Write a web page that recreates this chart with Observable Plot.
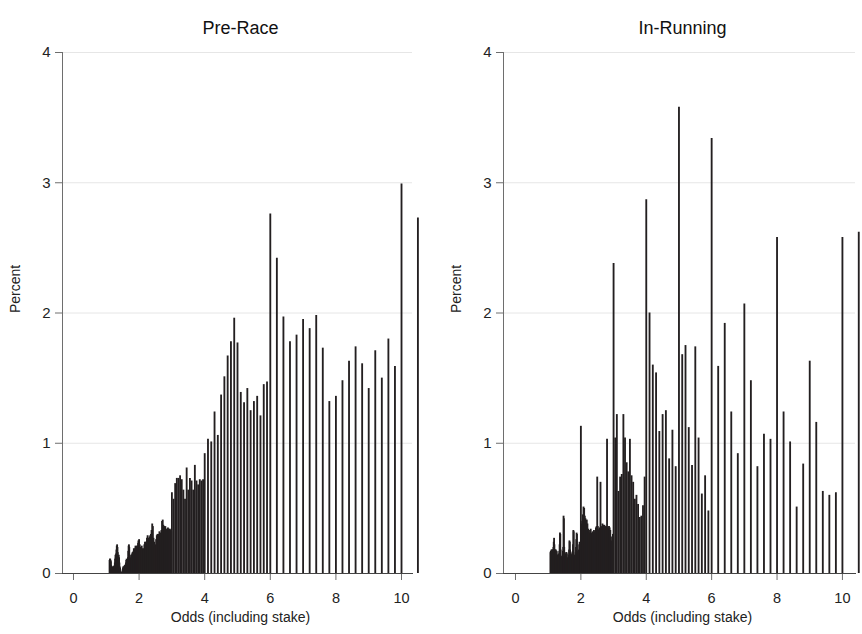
<!DOCTYPE html>
<html><head><meta charset="utf-8">
<script src="https://cdn.jsdelivr.net/npm/d3@7"></script>
<script src="https://cdn.jsdelivr.net/npm/@observablehq/plot@0.6"></script>
<style>
body{margin:0;background:#fff;}
#wrap{display:flex;width:862px;height:634px;}
#wrap svg{display:block;overflow:visible;}
</style></head><body><div id="wrap"></div>
<script>
// Betfair price ladder segments: first price and increment of each segment
const ladderStarts = [1.01, 2.00, 3.00, 4.0, 6.0, 10.0];
const ladderSteps  = [0.01, 0.02, 0.05, 0.1, 0.2, 0.5];

const xTicks = [0, 2, 4, 6, 8, 10];
const yTicks = [0, 1, 2, 3, 4];
const panelTitles = ["Pre-Race", "In-Running"];
const xLabel = "Odds (including stake)";
const yLabel = "Percent";

// ---- Pre-Race percentages ----
const pre101to199 = [
  0,0,0,0,0,0,0,0,0,
  0.10,0.11,0.11,0.10,0.09,0.06,0.04,0.04,0.03,0.04,
  0.05,0.05,0.05,0.04,0.05,0.06,0.08,0.11,0.14,0.12,
  0.15,0.18,0.21,0.22,0.20,0.16,0.13,0.12,0.14,0.12,
  0.08,0.05,0.04,0.02,0.01,0.01,0.005,0.005,0.005,0.01,
  0.03,0.04,0.05,0.05,0.04,0.05,0.06,0.06,0.06,0.07,
  0.08,0.10,0.11,0.10,0.09,0.08,0.12,0.17,0.21,0.22,
  0.20,0.14,0.11,0.10,0.11,0.12,0.14,0.13,0.14,0.15,
  0.16,0.15,0.16,0.17,0.19,0.16,0.17,0.18,0.19,0.21,
  0.20,0.18,0.19,0.21,0.20,0.19,0.21,0.23,0.25,0.24
];
const pre200to298 = [
  0.26,0.22,0.20,0.20,0.21,0.19,0.18,0.19,0.22,0.24,
  0.24,0.23,0.27,0.29,0.27,0.26,0.28,0.29,0.30,0.33,
  0.38,0.36,0.27,0.24,0.20,0.22,0.26,0.29,0.30,0.29,
  0.30,0.32,0.31,0.30,0.33,0.40,0.41,0.37,0.36,0.35,
  0.36,0.34,0.33,0.34,0.35,0.34,0.33,0.34,0.33,0.32
];
const pre300to395 = [0.62,0.57,0.69,0.73,0.73,0.75,0.72,0.64,0.57,0.81,0.64,0.73,0.71,0.64,0.83,0.71,0.68,0.72,0.71,0.72];
const pre40to59 = [0.92,1.03,1.01,1.24,1.06,1.37,1.51,1.67,1.78,1.96,1.77,1.39,1.31,1.42,1.25,1.32,1.36,1.21,1.45,1.47];
const pre60to98 = [2.76,2.42,1.97,1.78,1.83,1.95,1.88,1.98,1.73,1.32,1.36,1.48,1.63,1.74,1.61,1.42,1.71,1.50,1.80,1.59];
const pre100to105 = [2.99,2.73];

// ---- In-Running percentages ----
const inr101to199 = [
  0,0,0,0,0,0,
  0.16,0.17,0.17,
  0.18,0.17,0.18,0.18,0.16,0.18,0.20,0.24,0.27,0.22,
  0.18,0.17,0.18,0.18,0.17,0.16,0.17,0.14,0.13,0.14,
  0.14,0.13,0.14,0.15,0.17,0.22,0.31,0.30,0.18,0.12,
  0.12,0.11,0.13,0.12,0.14,0.17,0.20,0.44,0.42,0.20,
  0.13,0.12,0.12,0.13,0.15,0.16,0.16,0.15,0.12,0.10,
  0.10,0.11,0.12,0.14,0.18,0.25,0.24,0.18,0.12,0.11,
  0.12,0.13,0.14,0.15,0.16,0.17,0.22,0.33,0.32,0.14,
  0.12,0.12,0.13,0.14,0.16,0.20,0.26,0.31,0.30,0.17,
  0.15,0.14,0.15,0.16,0.18,0.22,0.24,0.20,0.17,0.20
];
const inr200to298 = [
  1.13,0.38,0.40,0.45,0.51,0.50,0.44,0.42,0.40,0.41,
  0.38,0.34,0.33,0.31,0.33,0.34,0.31,0.30,0.32,0.31,
  0.33,0.32,0.31,0.35,0.36,0.74,0.36,0.33,0.34,0.35,
  0.70,0.34,0.36,0.38,0.37,0.36,0.37,0.36,0.35,0.36,
  1.03,0.35,0.34,0.36,0.35,0.33,0.28,0.25,0.24,0.30
];
const inr300to395 = [2.38,1.04,1.22,0.63,0.74,0.76,1.22,1.04,0.85,0.78,1.03,0.75,0.70,0.57,0.60,0.53,0.43,0.44,0.52,0.74];
const inr40to59 = [2.87,2.00,1.60,1.54,1.09,1.22,1.25,0.88,1.10,0.82,3.58,1.68,1.75,1.12,0.83,1.74,1.04,0.61,0.75,0.48];
const inr60to98 = [3.34,1.59,1.92,1.24,0.92,2.07,1.48,0.82,1.07,1.03,2.58,1.24,1.01,0.51,0.84,1.63,1.16,0.63,0.60,0.62];
const inr100to105 = [2.58,2.62];

function toRows(segments) {
  const rows = [];
  segments.forEach((vals, i) => {
    vals.forEach((v, j) => rows.push({odds: +(ladderStarts[i] + j * ladderSteps[i]).toFixed(2), pct: v}));
  });
  return rows;
}

const preData = toRows([pre101to199, pre200to298, pre300to395, pre40to59, pre60to98, pre100to105]);
const inrData = toRows([inr101to199, inr200to298, inr300to395, inr40to59, inr60to98, inr100to105]);

const font = "'Liberation Sans', Arial, Helvetica, sans-serif";

function panel(title, data, marginLeft, marginRight, xDomain) {
  return Plot.plot({
    width: 431, height: 634,
    marginTop: 52, marginBottom: 61, marginLeft, marginRight,
    style: {fontFamily: font, color: "#222", background: "#fff", overflow: "visible"},
    x: {domain: xDomain, label: null},
    y: {domain: [0, 4], label: null},
    marks: [
      Plot.gridY(yTicks.filter(d => d > 0), {stroke: "#e6e6e6", strokeOpacity: 1, strokeWidth: 1}),
      Plot.ruleX(data, {x: "odds", y1: 0, y2: "pct", stroke: "#231f20", strokeWidth: 1.85}),
      Plot.axisY({ticks: yTicks, tickFormat: d => String(d), tickSize: 7, tickPadding: 5, fontSize: 15, stroke: "#6e6e6e", fill: "#222", label: null}),
      Plot.axisX({ticks: xTicks, tickFormat: d => String(d), tickSize: 7, tickPadding: 12, fontSize: 14.5, stroke: "#6e6e6e", fill: "#222", label: null}),
      Plot.frame({anchor: "left", stroke: "#6e6e6e"}),
      Plot.frame({anchor: "bottom", stroke: "#444"}),
      Plot.text([title], {frameAnchor: "top", dy: -31, dx: 3, fontSize: 18, fill: "#111"}),
      Plot.text([yLabel], {frameAnchor: "left", dx: -47, rotate: -90, fontSize: 14, fill: "#222"}),
      Plot.text([xLabel], {frameAnchor: "bottom", dy: 48, dx: 3, fontSize: 14, fill: "#222"})
    ]
  });
}

const wrap = document.getElementById("wrap");
wrap.appendChild(panel(panelTitles[0], preData, 62, 19, [-0.335, 10.335]));
wrap.appendChild(panel(panelTitles[1], inrData, 72, 7, [-0.367, 10.4]));
</script>
</body></html>
